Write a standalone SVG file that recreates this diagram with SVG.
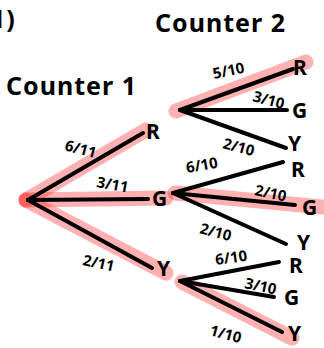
<svg xmlns="http://www.w3.org/2000/svg" width="324" height="348" viewBox="0 0 324 348">
<style>
.hl{stroke:#ff3030;stroke-opacity:0.38;stroke-width:15;stroke-linecap:round;fill:none}
.ln{stroke:#000;stroke-width:4;stroke-linecap:round;fill:none}
text{font-family:"Noto Sans","DejaVu Sans",sans-serif;font-weight:bold;fill:#000}
.lb{font-size:15px}
.nd{font-size:21px}
.tt{font-size:25px;letter-spacing:1px}
</style>
<rect width="324" height="348" fill="#fff"/>
<g id="highlights">
<line class="hl" x1="26" y1="200" x2="146" y2="130"/>
<line class="hl" x1="26" y1="200" x2="166" y2="198"/>
<line class="hl" x1="26" y1="200" x2="166" y2="273"/>
<line class="hl" x1="176" y1="111" x2="306" y2="62"/>
<line class="hl" x1="175" y1="193" x2="322" y2="207"/>
<line class="hl" x1="182" y1="282" x2="292" y2="338"/>
</g>
<g id="connectors">
<line class="ln" x1="28" y1="200" x2="143" y2="133"/>
<line class="ln" x1="28" y1="200" x2="148" y2="199"/>
<line class="ln" x1="28" y1="200" x2="152" y2="268"/>
<line class="ln" x1="180" y1="110" x2="293" y2="69"/>
<line class="ln" x1="180" y1="110" x2="287" y2="110"/>
<line class="ln" x1="180" y1="110" x2="286" y2="148"/>
<line class="ln" x1="173" y1="193" x2="283" y2="162"/>
<line class="ln" x1="173" y1="193" x2="295" y2="205"/>
<line class="ln" x1="173" y1="193" x2="286" y2="244"/>
<line class="ln" x1="180" y1="281" x2="279" y2="262"/>
<line class="ln" x1="180" y1="281" x2="274" y2="297"/>
<line class="ln" x1="180" y1="281" x2="282" y2="332"/>
</g>
<g id="titles">
<text class="tt" x="-9" y="28">1)</text>
<text class="tt" x="155" y="32">Counter 2</text>
<text class="tt" x="6" y="95">Counter 1</text>
</g>
<g id="c1-R"><text class="nd" x="146" y="139">R</text></g>
<g id="c1-G"><text class="nd" x="152" y="206">G</text></g>
<g id="c1-Y"><text class="nd" x="157" y="276">Y</text></g>
<g id="R-R"><text class="nd" x="293" y="75">R</text></g>
<g id="R-G"><text class="nd" x="292" y="118">G</text></g>
<g id="R-Y"><text class="nd" x="288" y="151">Y</text></g>
<g id="G-R"><text class="nd" x="291" y="177">R</text></g>
<g id="G-G"><text class="nd" x="302" y="215">G</text></g>
<g id="G-Y"><text class="nd" x="297" y="250">Y</text></g>
<g id="Y-R"><text class="nd" x="289" y="273">R</text></g>
<g id="Y-G"><text class="nd" x="284" y="305">G</text></g>
<g id="Y-Y"><text class="nd" x="288" y="341">Y</text></g>
<g id="labels">
<text class="lb" transform="translate(64,150) rotate(15)">6/11</text>
<text class="lb" transform="translate(96,187) rotate(10)">3/11</text>
<text class="lb" transform="translate(82,265) rotate(12)">2/11</text>
<text class="lb" transform="translate(214,79) rotate(-12)">5/10</text>
<text class="lb" transform="translate(252,101) rotate(15)">3/10</text>
<text class="lb" transform="translate(222,148) rotate(15)">2/10</text>
<text class="lb" transform="translate(187,173) rotate(-10)">6/10</text>
<text class="lb" transform="translate(254,195) rotate(12)">2/10</text>
<text class="lb" transform="translate(199,233) rotate(15)">2/10</text>
<text class="lb" transform="translate(216,265) rotate(-8)">6/10</text>
<text class="lb" transform="translate(244,288) rotate(12)">3/10</text>
<text class="lb" transform="translate(209,335) rotate(15)">1/10</text>
</g>
</svg>
